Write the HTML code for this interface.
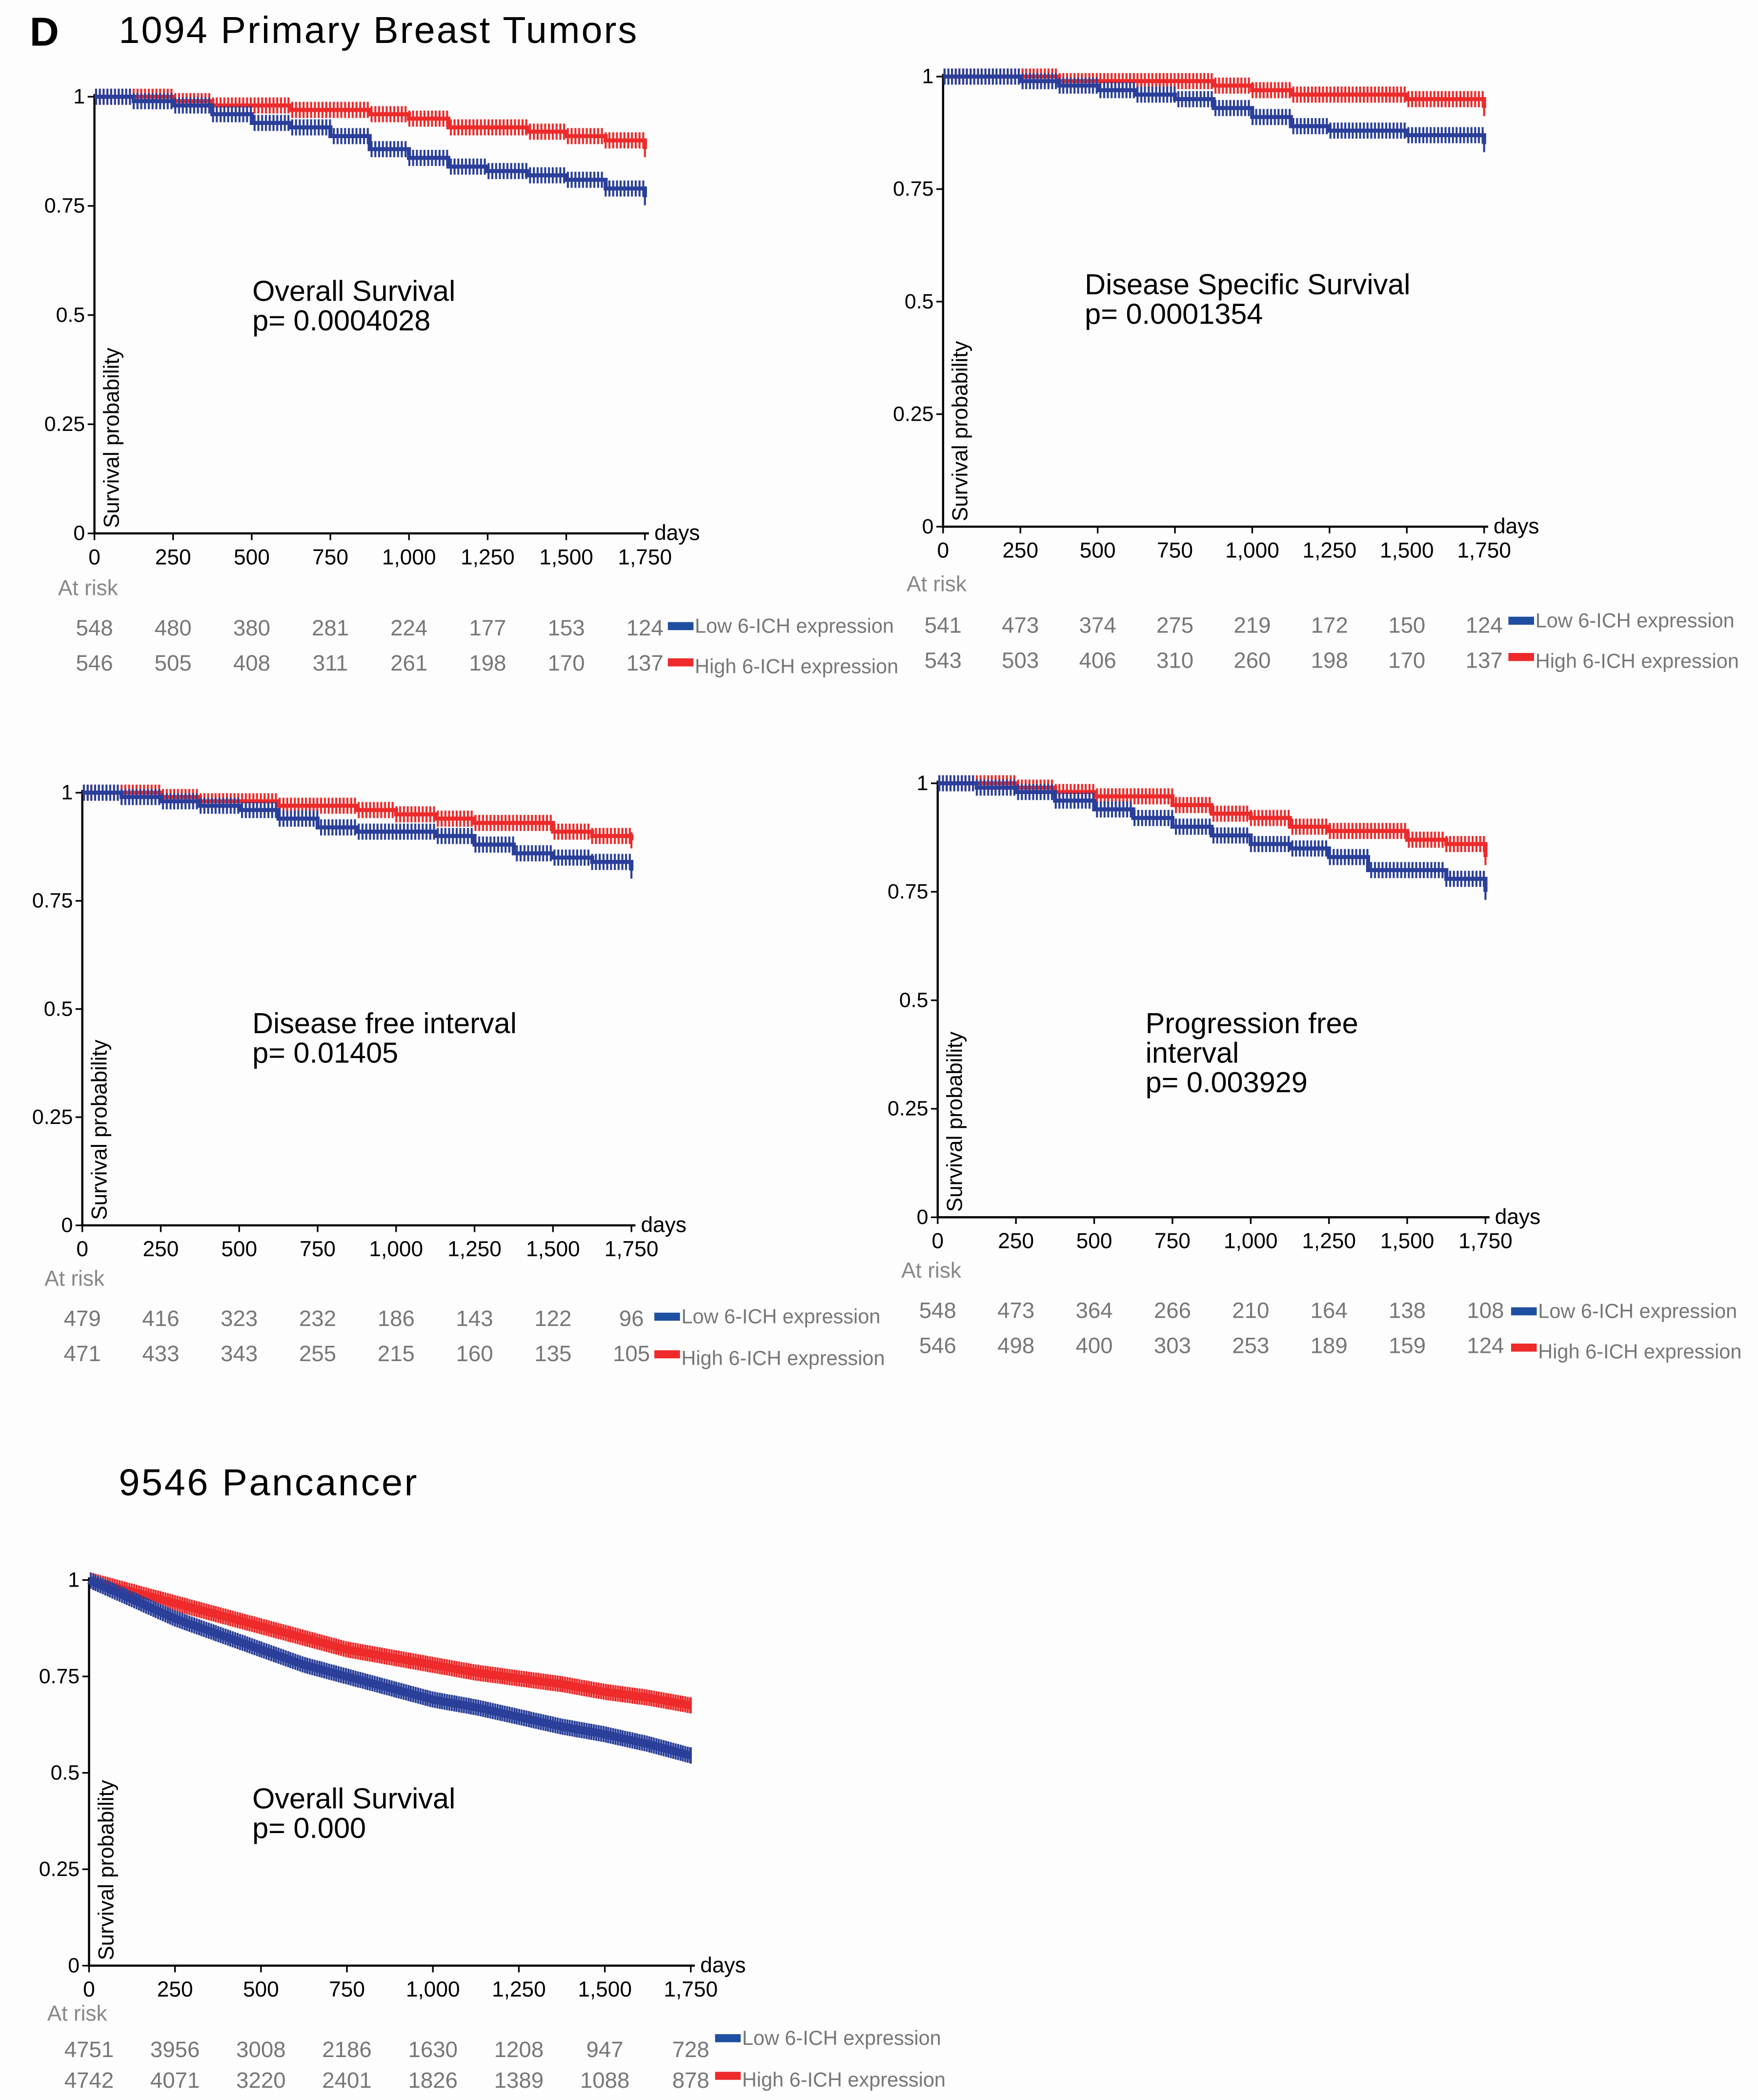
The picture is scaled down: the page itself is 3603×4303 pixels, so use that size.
<!DOCTYPE html>
<html><head><meta charset="utf-8"><style>
html,body{margin:0;padding:0;background:#fdfdfd;}
svg{display:block;font-family:"Liberation Sans",Arial,sans-serif;}
</style></head><body>
<svg id="fig" width="3603" height="4303" viewBox="0 0 1303 1563" preserveAspectRatio="none" xmlns="http://www.w3.org/2000/svg">
<rect width="1303" height="1563" fill="#fdfdfd"/>
<text x="22" y="34" font-size="30" font-weight="bold">D</text>
<text x="88" y="32" font-size="28" textLength="384">1094 Primary Breast Tumors</text>
<text x="88" y="1113" font-size="28" textLength="221">9546 Pancancer</text>
<g id="charts"></g>
</svg>
<script>
const days = [0,125,250,375,500,625,750,875,1000,1125,1250,1375,1500,1625,1750];
const xTicks = [0,250,500,750,1000,1250,1500,1750];
const xTickLabels = ["0","250","500","750","1,000","1,250","1,500","1,750"];
const yTicks = [0,0.25,0.5,0.75,1];
const yTickLabels = ["0","0.25","0.5","0.75","1"];

const os_low  = [1,0.99,0.98,0.96,0.94,0.93,0.91,0.88,0.86,0.84,0.83,0.82,0.81,0.79,0.77];
const os_high = [1,1,0.99,0.98,0.98,0.97,0.97,0.96,0.95,0.93,0.93,0.92,0.91,0.90,0.88];
const os_riskLow  = [548,480,380,281,224,177,153,124];
const os_riskHigh = [546,505,408,311,261,198,170,137];

const dss_low  = [1,1,0.99,0.98,0.97,0.96,0.95,0.93,0.91,0.89,0.88,0.88,0.87,0.87,0.85];
const dss_high = [1,1,1,0.99,0.99,0.99,0.99,0.98,0.97,0.96,0.96,0.96,0.95,0.95,0.93];
const dss_riskLow  = [541,473,374,275,219,172,150,124];
const dss_riskHigh = [543,503,406,310,260,198,170,137];

const dfi_low  = [1,0.99,0.98,0.97,0.96,0.94,0.92,0.91,0.91,0.90,0.88,0.86,0.85,0.84,0.82];
const dfi_high = [1,1,0.99,0.98,0.98,0.97,0.97,0.96,0.95,0.94,0.93,0.93,0.91,0.90,0.89];
const dfi_riskLow  = [479,416,323,232,186,143,122,96];
const dfi_riskHigh = [471,433,343,255,215,160,135,105];

const pfi_low  = [1,0.99,0.98,0.96,0.94,0.92,0.90,0.88,0.86,0.85,0.83,0.80,0.80,0.78,0.75];
const pfi_high = [1,1,0.99,0.98,0.97,0.97,0.95,0.93,0.92,0.90,0.89,0.89,0.87,0.86,0.83];
const pfi_riskLow  = [548,473,364,266,210,164,138,108];
const pfi_riskHigh = [546,498,400,303,253,189,159,124];

const pan_low  = [1,0.95,0.90,0.86,0.82,0.78,0.75,0.72,0.69,0.67,0.645,0.62,0.60,0.575,0.545];
const pan_high = [1,0.97,0.94,0.91,0.88,0.85,0.82,0.80,0.78,0.76,0.745,0.73,0.71,0.695,0.675];
const pan_riskLow  = [4751,3956,3008,2186,1630,1208,947,728];
const pan_riskHigh = [4742,4071,3220,2401,1826,1389,1088,878];

const NS="http://www.w3.org/2000/svg";
const root=document.getElementById('charts');
function mk(tag,attrs,parent,text){const e=document.createElementNS(NS,tag);for(const k in attrs)e.setAttribute(k,attrs[k]);if(text!==undefined)e.textContent=text;parent.appendChild(e);return e;}

const panels=[
 {id:'os',x0:70,x1:478,yTop:72,yBot:397,low:os_low,high:os_high,rl:os_riskLow,rh:os_riskHigh,rY:[468,494],arX:43,arY:443,legX:495,legY:[466,496],ann:["Overall Survival","p= 0.0004028"],annX:187,annY:224,smooth:false},
 {id:'dss',x0:699,x1:1100,yTop:57,yBot:392,low:dss_low,high:dss_high,rl:dss_riskLow,rh:dss_riskHigh,rY:[466,492],arX:672,arY:440,legX:1118,legY:[462,492],ann:["Disease Specific Survival","p= 0.0001354"],annX:804,annY:219,smooth:false},
 {id:'dfi',x0:61,x1:468,yTop:590,yBot:912,low:dfi_low,high:dfi_high,rl:dfi_riskLow,rh:dfi_riskHigh,rY:[982,1008],arX:33,arY:957,legX:485,legY:[980,1011],ann:["Disease free interval","p= 0.01405"],annX:187,annY:769,smooth:false},
 {id:'pfi',x0:695,x1:1101,yTop:583,yBot:906,low:pfi_low,high:pfi_high,rl:pfi_riskLow,rh:pfi_riskHigh,rY:[976,1002],arX:668,arY:951,legX:1120,legY:[976,1006],ann:["Progression free","interval","p= 0.003929"],annX:849,annY:769,smooth:false},
 {id:'pan',x0:66,x1:512,yTop:1176,yBot:1463,low:pan_low,high:pan_high,rl:pan_riskLow,rh:pan_riskHigh,rY:[1526,1549],arX:35,arY:1504,legX:530,legY:[1517,1548],ann:["Overall Survival","p= 0.000"],annX:187,annY:1346,smooth:true}
];

panels.forEach(p=>{
  const g=mk('g',{},root);
  
  
  const sx=d=>p.x0+(d/1750)*(p.x1-p.x0);
  const sy=v=>p.yBot-v*(p.yBot-p.yTop);
  const ax=mk('path',{d:`M${p.x0},${p.yTop-2}V${p.yBot}H${p.x1+3}`,stroke:'#000','stroke-width':1.6,fill:'none'},g);
  
  
  yTicks.forEach((t,i)=>{
    mk('line',{x1:p.x0-5,x2:p.x0,y1:sy(t),y2:sy(t),stroke:'#000','stroke-width':1.2},g);
    const tl=mk('text',{x:p.x0-7,y:sy(t)+5,'font-size':15.5,'text-anchor':'end'},g,yTickLabels[i]);
    
    
  });
  xTicks.forEach((t,i)=>{
    mk('line',{x1:sx(t),x2:sx(t),y1:p.yBot,y2:p.yBot+5,stroke:'#000','stroke-width':1.2},g);
    const tl=mk('text',{x:sx(t),y:p.yBot+23,'font-size':16,'text-anchor':'middle'},g,xTickLabels[i]);
    
    
  });
  const dl=mk('text',{x:p.x1+7,y:p.yBot+5,'font-size':16},g,'days');
  
  
  const yl=mk('text',{x:0,y:0,'font-size':16,transform:`translate(${p.x0+18},${p.yBot-4}) rotate(-90)`},g,'Survival probability');
  
  
  p.ann.forEach((s,i)=>{
    const a=mk('text',{x:p.annX,y:p.annY+i*22,'font-size':21.5},g,s);
    
    
  });
  [[p.high,'#ee2a2a','high'],[p.low,'#2a3f9a','low']].forEach(([vals,col,nm])=>{
    let d='';
    if(p.smooth){
      d=vals.map((v,i)=>(i?'L':'M')+sx(days[i]).toFixed(1)+','+sy(v).toFixed(1)).join('');
    } else {
      d='M'+sx(days[0])+','+sy(vals[0]);
      for(let i=1;i<vals.length;i++){d+='H'+sx(days[i]).toFixed(1)+'V'+sy(vals[i]).toFixed(1);}
    }
    const ln=mk('path',{d:d,stroke:col,'stroke-width':p.smooth?6:3,fill:'none'},g);
    
    
    let tk='';
    const step=p.smooth?7:12;
    for(let dd=5;dd<1750;dd+=step){
      const k=Math.min(Math.floor(dd/125),vals.length-2);
      let v;
      if(p.smooth){const f=(dd-days[k])/125;v=vals[k]+(vals[k+1]-vals[k])*f;}
      else v=vals[k];
      const x=sx(dd),y=sy(v);
      tk+=`M${x.toFixed(1)},${(y-6).toFixed(1)}V${(y+6).toFixed(1)}`;
    }
    const last=sx(1750);tk+=`M${last},${sy(vals[vals.length-1])-6}V${sy(vals[vals.length-1])+6}`;
    const cs=mk('path',{d:tk,stroke:col,'stroke-width':1.5,fill:'none'},g);
    
    
  });
  const ar=mk('text',{x:p.arX,y:p.arY,'font-size':16,fill:'#888'},g,'At risk');
  
  
  [p.rl,p.rh].forEach((row,ri)=>{
    row.forEach((n,i)=>{
      const t=mk('text',{x:sx(xTicks[i]),y:p.rY[ri]+5,'font-size':16.5,fill:'#777','text-anchor':'middle'},g,String(n));
      
      
    });
  });
  [['#1f4fa0','Low 6-ICH expression'],['#ee2a2a','High 6-ICH expression']].forEach(([c,s],i)=>{
    const lg=mk('g',{},g);
    
    
    mk('rect',{x:p.legX,y:p.legY[i]-3+(i?-3:0),width:19,height:6,fill:c},lg);
    mk('text',{x:p.legX+20,y:p.legY[i]+5,'font-size':15,fill:'#777'},lg,s);
  });
});
</script>
</body></html>
